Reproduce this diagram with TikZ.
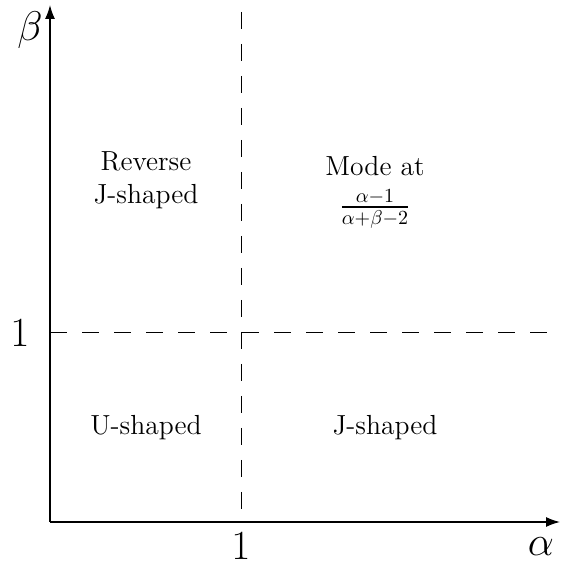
\documentclass[tikz,border=0pt]{standalone}
\usepackage{amsmath, amssymb}
\usetikzlibrary{arrows.meta, positioning}

\begin{document}
\begin{tikzpicture}[
  x=0.5pt, y=0.5pt,
  axis/.style={line width=0.75pt, -{Latex[length=7pt, width=5pt]}},
  guide/.style={line width=0.5pt, dash pattern=on 8.5pt off 7.5pt},
  region/.style={font=\fontsize{13.8}{16.5}\selectfont, align=center},
  lbl/.style={font=\huge}
]
  \useasboundingbox (0,0) rectangle (561,566);

  % Corners of the parameter plane
  \coordinate (O) at (50,44);
  \coordinate (xend) at (560,44);
  \coordinate (yend) at (50,561);
  \coordinate (a1) at (241,44);
  \coordinate (a1top) at (241,554);
  \coordinate (b1) at (50,233);
  \coordinate (b1end) at (561,233);

  % Axes
  \draw[axis] (O) -- (xend);
  \draw[axis] (O) -- (yend);

  % Dividing lines at alpha = 1 and beta = 1
  \draw[guide] (a1top) -- (a1);
  \draw[guide] (b1) -- (b1end);

  % Axis labels
  \node[lbl] (alab) at (541,19) {$\alpha$};
  \node[lbl] (blab) at (30,536) {$\beta$};
  \node[lbl] (one x) at (241,20) {$1$};
  \node[lbl] (one y) at (20,233) {$1$};

  % Regions
  \node[region] (rev) at (146,386) {Reverse\\J-shaped};
  \node[region] (mode) at (375,374) {Mode at\\[3pt]$\frac{\alpha-1}{\alpha+\beta-2}$};
  \node[region] (ushape) at (146,138) {U-shaped};
  \node[region] (jshape) at (385,138) {J-shaped};
\end{tikzpicture}
\end{document}
